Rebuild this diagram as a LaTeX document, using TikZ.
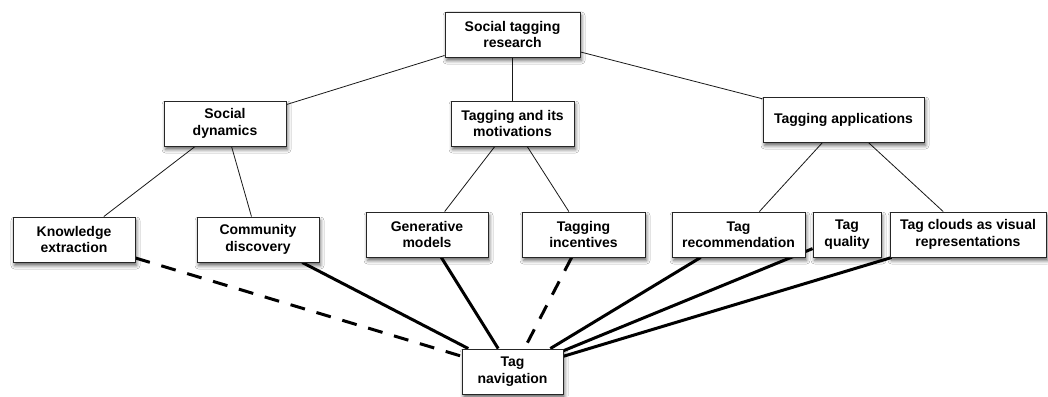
\documentclass[tikz,border=0pt]{standalone}
\usepackage{fontspec}
\setmainfont{Liberation Sans}
\usetikzlibrary{shadows.blur,backgrounds}
\begin{document}
\begin{tikzpicture}[x=1pt,y=-1pt,
 box/.style={draw=black!85, line width=0.9pt, fill=white, align=center, inner sep=0pt,
   minimum height=45pt, font=\fontsize{14}{16.5}\selectfont\bfseries,
   blur shadow={shadow xshift=1.5pt, shadow yshift=-3.5pt, shadow blur radius=3.5pt, shadow opacity=60}},
 treeline/.style={line width=0.8pt, black!90},
 strongline/.style={line width=3pt},
 dashline/.style={line width=3pt, dash pattern=on 15pt off 12pt}]
\useasboundingbox (0,0) rectangle (1048,396);
\node[box, minimum width=135pt] (root) at (512.5,34.5) {Social tagging\\research};
\node[box, minimum width=122pt] (sd) at (225,123.5) {Social\\dynamics};
\node[box, minimum width=123pt] (tm) at (512.5,123.5) {Tagging and its\\motivations};
\node[box, minimum width=161pt] (ta) at (843.5,119.5) {Tagging applications};
\node[box, minimum width=122pt] (ke) at (74,239.5) {Knowledge\\extraction};
\node[box, minimum width=122pt] (cd) at (258,239.5) {Community\\discovery};
\node[box, minimum width=122pt] (gm) at (427,234.5) {Generative\\models};
\node[box, minimum width=123pt] (ti) at (583.5,234.5) {Tagging\\incentives};
\node[box, minimum width=133pt] (tr) at (738.5,234.5) {Tag\\recommendation};
\node[box, minimum width=68pt] (tq) at (847,234.5) {Tag\\quality};
\node[box, minimum width=156pt] (tc) at (968,234.5) {Tag clouds as visual\\representations};
\node[box, minimum width=101pt] (tn) at (512.5,371.5) {Tag\\navigation};
\begin{scope}[on background layer]
\fill[white] (0,0) rectangle (1048,396);
\draw[treeline] (root) -- (sd);
\draw[treeline] (root) -- (tm);
\draw[treeline] (root) -- (ta);
\draw[treeline] (sd) -- (ke);
\draw[treeline] (sd) -- (cd);
\draw[treeline] (tm) -- (gm);
\draw[treeline] (tm) -- (ti);
\draw[treeline] (ta) -- (tr);
\draw[treeline] (ta) -- (tc);
\draw[dashline] (ke) -- (tn);
\draw[strongline] (cd) -- (tn);
\draw[strongline] (gm) -- (tn);
\draw[dashline] (ti) -- (tn);
\draw[strongline] (tr) -- (tn);
\draw[strongline] (tq) -- (tn);
\draw[strongline] (tc) -- (tn);
\end{scope}
\end{tikzpicture}
\end{document}
